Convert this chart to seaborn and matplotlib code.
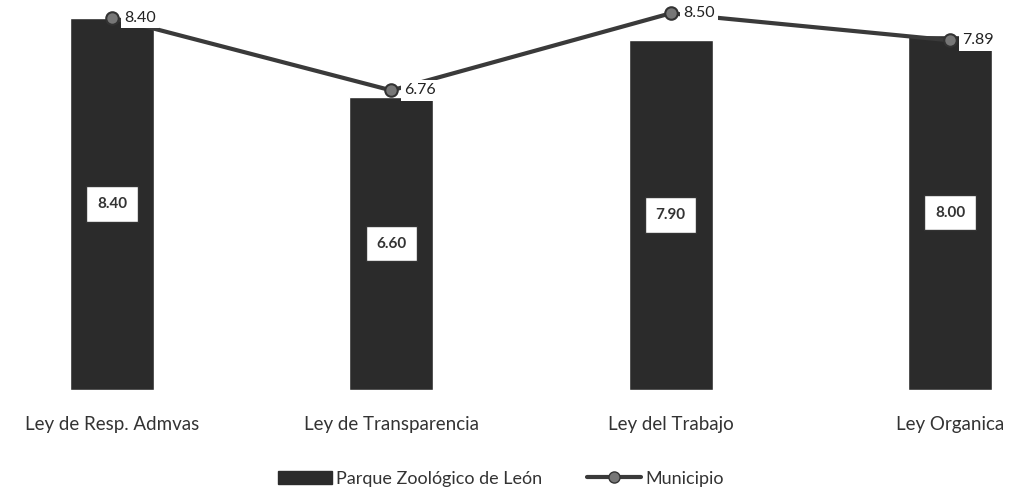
import numpy as np
import pandas as pd
import seaborn as sns
import matplotlib.pyplot as plt
from matplotlib.lines import Line2D
from matplotlib.patches import Patch

categorias = ['Ley de Resp. Admvas', 'Ley de Transparencia', 'Ley del Trabajo', 'Ley Organica']
parque = [8.40, 6.60, 7.90, 8.00]
municipio = [8.40, 6.76, 8.50, 7.89]

sns.set_theme(style='white')
plt.rcParams['font.family'] = ['Lato', 'DejaVu Sans']

df = pd.DataFrame({'ley': categorias, 'parque': parque, 'municipio': municipio})

fig = plt.figure(figsize=(10.14, 4.93), dpi=100)
ax = fig.add_axes([0, 0.209, 1, 0.791])

color_barra = '#2b2b2b'
color_linea = '#3a3a3a'

sns.barplot(data=df, x='ley', y='parque', color=color_barra, width=0.30,
            saturation=1, ax=ax, zorder=2)
sns.pointplot(data=df, x='ley', y='municipio', color=color_linea, markers='o',
              linestyles='-', ax=ax, zorder=4)
for ln in ax.lines:
    ln.set_linewidth(3)
    ln.set_markersize(9)
    ln.set_markerfacecolor('#777777')
    ln.set_markeredgecolor('#333333')
    ln.set_markeredgewidth(1.5)

# etiquetas de barras
for i, v in enumerate(parque):
    ax.text(i, v / 2, f'{v:.2f}', ha='center', va='center', fontsize=11,
            fontweight='bold', color='#333333', zorder=5,
            bbox=dict(boxstyle='square,pad=0.7', fc='white', ec='#333333', lw=1))

# etiquetas de la linea
for i, v in enumerate(municipio):
    ax.annotate(f'{v:.2f}', (i, v), xytext=(9, 0), textcoords='offset points',
                ha='left', va='center', fontsize=11.5, color='#222222', zorder=5,
                bbox=dict(boxstyle='square,pad=0.2', fc='white', ec='none'))

ax.set_xlim(-0.401, 3.229)
ax.set_ylim(0, 8.8)
ax.set_xlabel('')
ax.set_ylabel('')
ax.set_yticks([])
ax.tick_params(axis='x', length=0, labelsize=13.5, pad=19, colors='#333333')
for s in ax.spines.values():
    s.set_visible(False)

handles = [Patch(facecolor=color_barra, edgecolor=color_barra, label='Parque Zoológico de León'),
           Line2D([0], [0], color=color_linea, lw=3, marker='o', markersize=8,
                  markerfacecolor='#777777', markeredgecolor='#333333', label='Municipio')]
fig.legend(handles=handles, loc='lower center', bbox_to_anchor=(0.494, -0.02), ncol=2,
           frameon=False, fontsize=13, handlelength=3, handletextpad=0.2,
           columnspacing=2.5, labelcolor='#333333')

fig.savefig('out.png', dpi=100)
